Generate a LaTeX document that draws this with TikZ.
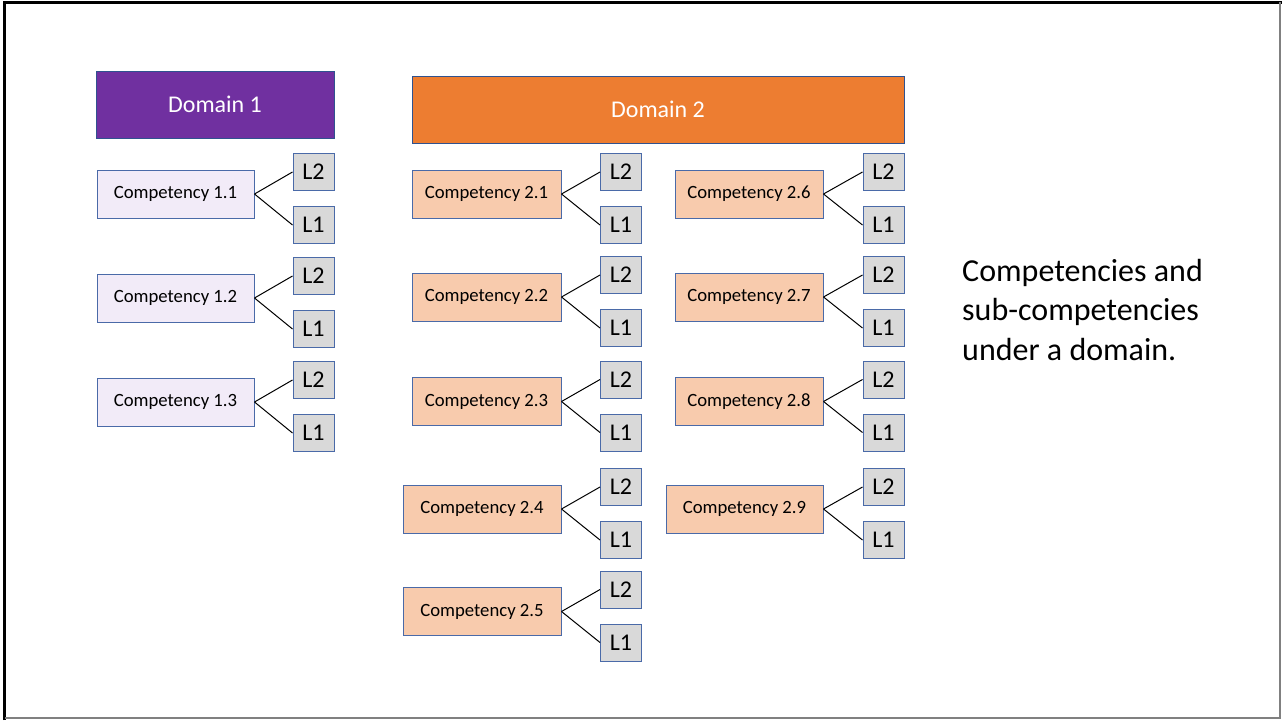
\documentclass[tikz,border=0pt]{standalone}
\usepackage{fontspec}
\setmainfont{Carlito}
\definecolor{dompurple}{HTML}{7030A0}
\definecolor{domorange}{HTML}{ED7D31}
\definecolor{domedge}{HTML}{2F528F}
\definecolor{boxedge}{HTML}{4A6AA8}
\definecolor{lavender}{HTML}{F2EBF8}
\definecolor{peach}{HTML}{F8CBAD}
\definecolor{lgray}{HTML}{D9D9D9}
\tikzset{
  domainbox/.style={draw=domedge, line width=1pt, text=white, inner sep=0pt,
    font=\fontsize{24}{28}\selectfont},
  compbox/.style={draw=boxedge, line width=1pt, inner sep=0pt, minimum height=48pt,
    font=\fontsize{18.7}{22}\selectfont},
  levelbox/.style={draw=boxedge, line width=1pt, fill=lgray, inner sep=0pt,
    minimum width=41pt, minimum height=37pt, font=\fontsize{24}{28}\selectfont},
  branch/.style={draw=black, line width=1pt},
}
% #1 name, #2 x centre, #3 y centre, #4 width, #5 fill, #6 label, #7 level-box x centre
\newcommand{\competency}[7]{%
  \node[compbox, fill=#5, minimum width=#4pt] (#1) at (#2,#3+1) {#6};
  \node[levelbox] (#1hi) at (#7,#3-21) {L2};
  \node[levelbox] (#1lo) at (#7,#3+32) {L1};
  \draw[branch] (#1.east) -- (#1hi.west);
  \draw[branch] (#1.east) -- (#1lo.west);
}
\begin{document}
\begin{tikzpicture}[x=1pt,y=-1pt]
  \useasboundingbox (0,0) rectangle (1282,720);
  % slide frame
  \draw[black, line width=3pt] (4.5,720) -- (4.5,2) -- (1282,2);
  \draw[gray, line width=1.5pt] (1280,2) -- (1280,718) -- (4.5,718);

  % domain headers
  \node[domainbox, fill=dompurple, minimum width=238pt, minimum height=67pt]
    (d1) at (215,104.5) {Domain 1};
  \node[domainbox, fill=domorange, minimum width=492pt, minimum height=67pt]
    (d2) at (658,109.5) {Domain 2};

  % domain 1 competencies
  \competency{c11}{175.5}{193}{157}{lavender}{Competency 1.1}{313.5}
  \competency{c12}{175.5}{297}{157}{lavender}{Competency 1.2}{313.5}
  \competency{c13}{175.5}{401}{157}{lavender}{Competency 1.3}{313.5}

  % domain 2 competencies, first column
  \competency{c21}{486.5}{193}{149}{peach}{Competency 2.1}{621}
  \competency{c22}{486.5}{296}{149}{peach}{Competency 2.2}{621}
  \competency{c23}{486.5}{400.5}{149}{peach}{Competency 2.3}{621}
  \competency{c24}{482}{508}{158}{peach}{Competency 2.4}{621}
  \competency{c25}{482}{610.5}{158}{peach}{Competency 2.5}{621}

  % domain 2 competencies, second column
  \competency{c26}{749}{193}{148}{peach}{Competency 2.6}{883.5}
  \competency{c27}{749}{296}{148}{peach}{Competency 2.7}{883.5}
  \competency{c28}{749}{400.5}{148}{peach}{Competency 2.8}{883.5}
  \competency{c29}{744.5}{508}{157}{peach}{Competency 2.9}{883.5}

  % caption
  \node[anchor=north west, align=left, inner sep=0pt,
        font=\fontsize{32}{39.5}\selectfont] (cap) at (962,259)
    {Competencies and\\sub-competencies\\under a domain.};
\end{tikzpicture}
\end{document}
